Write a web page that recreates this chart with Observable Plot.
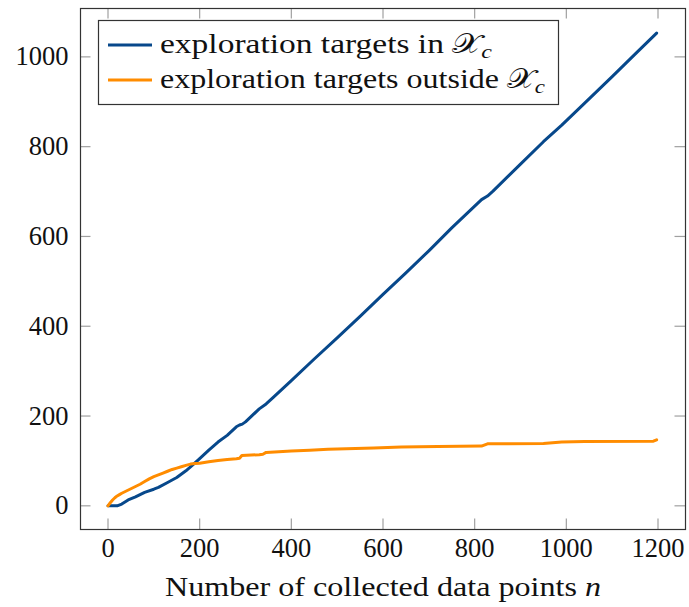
<!DOCTYPE html>
<html>
<head>
<meta charset="utf-8">
<script src="https://cdn.jsdelivr.net/npm/d3@7"></script>
<script src="https://cdn.jsdelivr.net/npm/@observablehq/plot@0.6"></script>
<style>
  html, body { margin: 0; padding: 0; background: #fff; }
  #chart svg { display: block; }
</style>
</head>
<body>
<div id="chart"></div>
<script>
// Cumulative number of exploration targets inside the set X_c
const insideN = [0, 20, 30, 44, 60, 80, 100, 110, 130, 150, 170, 185, 200, 220, 240, 260, 280, 287, 293, 300, 330, 345, 360, 400, 450, 500, 550, 600, 650, 700, 750, 815, 828, 840, 900, 950, 990, 1040, 1100, 1150, 1197];
const insideCount = [0, 0, 4, 13, 20, 30, 37, 41, 52, 63, 78, 91, 105, 124, 142, 157, 176, 180, 182, 187, 216, 227, 241, 279, 327, 374, 422, 471, 519, 568, 619, 682, 690, 701, 761, 811, 848, 897, 956, 1006, 1053];

// Cumulative number of exploration targets outside X_c
const outsideN = [0, 5, 10, 15, 20, 25, 30, 40, 50, 60, 70, 80, 90, 100, 110, 120, 130, 140, 150, 160, 170, 180, 190, 200, 220, 240, 260, 280, 287, 292, 330, 338, 345, 400, 440, 480, 520, 580, 640, 720, 815, 828, 950, 990, 1040, 1190, 1197];
const outsideCount = [0, 7, 13, 18, 22, 25, 28, 33, 38, 43, 48, 54, 60, 65, 69, 73, 77, 81, 84, 87, 90, 93, 94, 95, 98, 101, 103, 105, 106, 112, 114, 115, 119, 122, 124, 126, 127, 129, 131, 132, 133, 138, 139, 142, 143, 144, 147];

const xTicks = [0, 200, 400, 600, 800, 1000, 1200];
const yTicks = [0, 200, 400, 600, 800, 1000];

const seriesLabels = ["exploration targets in", "exploration targets outside"];
const setSymbol = "𝒳";
const setSub = "c";
const xLabel = "Number of collected data points";
const xLabelVar = "n";

const colors = ["#07488b", "#ff8c00"];

const inside = insideN.map((n, i) => ({n, count: insideCount[i]}));
const outside = outsideN.map((n, i) => ({n, count: outsideCount[i]}));

const W = 689, H = 607;
const mL = 80, mR = 4, mT = 8, mB = 78;
const innerW = W - mL - mR, innerH = H - mT - mB;
const tickLen = 10.5;
const font = "'Liberation Serif', 'DejaVu Serif', serif";
const fs = 26.5;

const chart = Plot.plot({
  width: W,
  height: H,
  marginLeft: mL,
  marginRight: mR,
  marginTop: mT,
  marginBottom: mB,
  style: {fontFamily: font, fontSize: fs + "px", color: "#111", background: "#fff"},
  x: {domain: [-60, 1260]},
  y: {domain: [-52.75, 1107.75]},
  marks: [
    // inward ticks on all four sides
    Plot.tickX(xTicks, {x: d => d, insetTop: innerH - tickLen, stroke: "#a0a0a0", strokeWidth: 1.2}),
    Plot.tickX(xTicks, {x: d => d, insetBottom: innerH - tickLen, stroke: "#a0a0a0", strokeWidth: 1.2}),
    Plot.tickY(yTicks, {y: d => d, insetRight: innerW - tickLen, stroke: "#a0a0a0", strokeWidth: 1.2}),
    Plot.tickY(yTicks, {y: d => d, insetLeft: innerW - tickLen, stroke: "#a0a0a0", strokeWidth: 1.2}),
    Plot.line(inside, {x: "n", y: "count", stroke: colors[0], strokeWidth: 3, strokeLinejoin: "round"}),
    Plot.line(outside, {x: "n", y: "count", stroke: colors[1], strokeWidth: 3, strokeLinejoin: "round"}),
    Plot.frame({stroke: "#333", strokeWidth: 1.2}),
    Plot.axisX(xTicks, {tickSize: 0, tickPadding: 9, label: null, fill: "#111", tickFormat: d => String(d)}),
    Plot.axisY(yTicks, {tickSize: 0, tickPadding: 12, label: null, fill: "#111", tickFormat: d => String(d)})
  ]
});

document.getElementById("chart").append(chart);

const svg = d3.select(chart);

// x-axis title with italic variable
const xt = svg.append("text")
  .attr("x", 165)
  .attr("y", 596)
  .attr("text-anchor", "start")
  .attr("font-family", font)
  .attr("font-size", fs)
  .attr("fill", "#111")
  .attr("textLength", 436)
  .attr("lengthAdjust", "spacingAndGlyphs");
xt.append("tspan").text(xLabel + " ");
xt.append("tspan").attr("font-style", "italic").text(xLabelVar);

// legend box
const lg = svg.append("g");
lg.append("rect")
  .attr("x", 98.5).attr("y", 20.5)
  .attr("width", 460).attr("height", 84)
  .attr("fill", "#fff").attr("stroke", "#333").attr("stroke-width", 1.2);

const legendWidths = [332, 385];
seriesLabels.forEach((label, i) => {
  const cy = 45 + i * 35;
  lg.append("line")
    .attr("x1", 108).attr("x2", 152)
    .attr("y1", cy).attr("y2", cy)
    .attr("stroke", colors[i]).attr("stroke-width", 3);
  const t = lg.append("text")
    .attr("x", 160).attr("y", cy + 8)
    .attr("text-anchor", "start")
    .attr("font-family", font)
    .attr("font-size", fs)
    .attr("fill", "#111")
    .attr("textLength", legendWidths[i])
    .attr("lengthAdjust", "spacingAndGlyphs");
  t.append("tspan").text(label + " ");
  t.append("tspan").text(setSymbol);
  t.append("tspan").attr("font-style", "italic").attr("font-size", 19).attr("dy", 5).text(setSub);
});
</script>
</body>
</html>
